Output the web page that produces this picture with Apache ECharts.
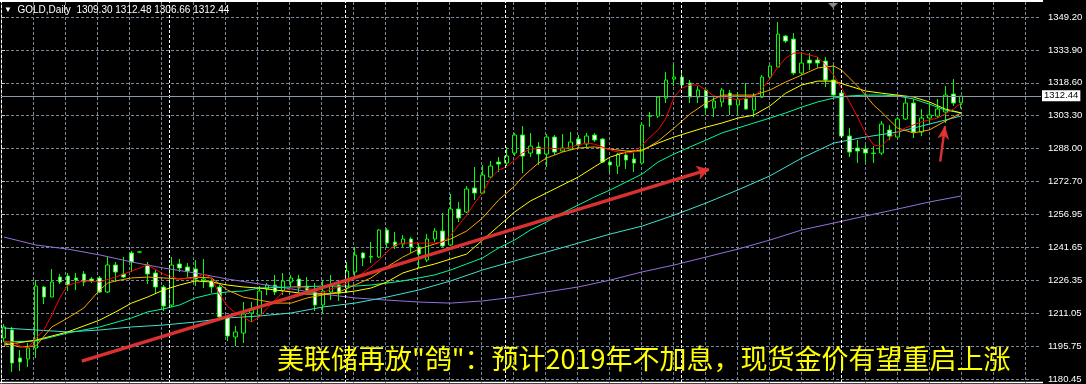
<!DOCTYPE html>
<html><head><meta charset="utf-8">
<script src="https://cdn.jsdelivr.net/npm/echarts@6/dist/echarts.min.js"></script>
<style>html,body{margin:0;padding:0;background:#000;}#c{width:1086px;height:384px;}</style>
</head><body><div id="c"></div>
<script>
// ---- candles (GOLD, Daily) ----
const opens = [
1199.97,1203.69,1190.68,1190.21,1195.32,1223.68,1219.03,1228.32,1228.79,1227.86,
1229.72,1227.39,1227.86,1221.35,1233.90,1229.72,1239.48,1239.90,1233.90,1230.18,
1223.68,1215.31,1234.37,1232.97,1232.04,1226.70,1226.46,1223.68,1209.73,1200.44,
1202.29,1211.59,1210.66,1222.75,1224.60,1221.82,1226.00,1227.39,1224.14,1221.35,
1215.31,1221.35,1224.60,1223.21,1230.65,1239.48,1237.60,1237.62,1250.17,1244.59,
1243.66,1245.99,1242.27,1236.22,1245.99,1249.70,1243.20,1259.93,1258.53,1269.69,
1267.37,1274.80,1281.77,1281.31,1285.96,1294.32,1285.96,1288.75,1285.49,1293.39,
1286.89,1287.82,1292.46,1290.14,1294.32,1292.46,1281.77,1279.91,1285.03,1283.17,
1281.31,1303.10,1303.15,1311.52,1320.35,1321.28,1318.49,1311.99,1315.24,1306.87,
1309.66,1313.84,1308.27,1311.06,1305.94,1311.99,1321.28,1325.93,1340.34,1338.94,
1323.14,1329.18,1329.18,1328.72,1319.89,1313.84,1293.86,1288.28,1287.82,1285.70,
1285.96,1296.65,1293.39,1301.76,1309.20,1295.72,1302.22,1303.15,1305.01,1313.38,
1309.30];
const closes = [
1205.08,1188.35,1188.82,1195.32,1224.14,1219.03,1226.00,1226.00,1224.60,1226.93,
1226.00,1226.46,1221.35,1233.90,1230.65,1228.32,1235.30,1240.00,1229.72,1223.68,
1214.84,1233.90,1232.51,1231.11,1227.39,1227.39,1223.68,1209.73,1200.90,1202.76,
1211.13,1213.45,1221.82,1224.60,1221.35,1226.46,1227.86,1223.21,1222.28,1215.31,
1221.82,1224.60,1220.89,1231.11,1238.55,1237.15,1237.90,1250.17,1244.13,1242.73,
1245.99,1242.27,1239.01,1245.99,1249.70,1242.73,1259.93,1255.75,1269.22,1267.37,
1275.73,1279.91,1280.84,1284.56,1294.32,1284.56,1289.21,1285.49,1293.39,1286.42,
1288.28,1291.07,1289.68,1293.86,1292.00,1281.77,1280.38,1285.49,1282.70,1281.31,
1298.97,1303.20,1311.99,1319.89,1321.28,1317.56,1311.99,1315.24,1306.87,1310.13,
1315.24,1308.27,1311.06,1306.41,1312.45,1321.28,1326.39,1341.27,1338.01,1323.14,
1327.79,1327.79,1327.79,1319.89,1312.91,1293.86,1286.42,1286.89,1285.96,1285.96,
1299.44,1293.86,1301.76,1309.20,1295.72,1302.22,1303.62,1306.41,1312.91,1309.20,
1312.44];
const highs = [
1206.48,1205.08,1194.39,1197.65,1226.93,1224.14,1232.04,1229.72,1230.18,1230.18,
1231.11,1228.32,1228.79,1237.62,1235.30,1237.62,1240.41,1240.41,1235.30,1231.58,
1224.60,1237.62,1236.69,1234.83,1236.22,1236.69,1227.86,1224.60,1210.66,1205.55,
1216.70,1216.70,1224.14,1225.53,1229.25,1230.18,1229.25,1229.25,1228.32,1225.53,
1226.93,1229.25,1225.53,1235.30,1242.27,1239.94,1244.59,1250.63,1251.10,1249.24,
1247.84,1246.91,1244.13,1248.31,1251.10,1258.07,1266.90,1263.18,1270.62,1279.45,
1280.38,1282.24,1284.10,1288.75,1295.25,1298.51,1295.25,1291.07,1294.79,1294.32,
1294.79,1295.72,1294.32,1295.25,1295.25,1292.93,1282.70,1285.96,1286.42,1285.96,
1300.37,1305.01,1312.45,1323.61,1327.32,1323.61,1319.89,1317.10,1316.17,1311.99,
1316.17,1315.24,1314.31,1318.49,1313.84,1322.21,1326.86,1346.84,1340.80,1341.73,
1332.90,1332.44,1330.58,1330.58,1326.86,1314.31,1297.58,1292.00,1289.68,1289.21,
1300.83,1298.97,1302.69,1311.52,1311.06,1306.41,1309.66,1311.06,1317.10,1320.35,
1312.48];
const lows = [
1198.11,1184.17,1184.63,1186.49,1190.68,1215.77,1219.03,1225.07,1221.82,1222.28,
1224.14,1225.53,1220.89,1220.89,1226.00,1227.86,1230.65,1239.48,1225.07,1220.89,
1212.52,1214.38,1230.65,1228.32,1224.14,1223.21,1220.89,1208.34,1198.58,1196.25,
1197.65,1207.41,1209.73,1219.96,1219.96,1219.96,1223.68,1221.35,1221.35,1212.52,
1211.59,1217.63,1217.17,1220.89,1228.32,1233.44,1234.83,1237.15,1241.80,1241.34,
1242.27,1239.48,1232.51,1235.30,1244.59,1242.27,1242.73,1253.89,1258.07,1264.11,
1266.90,1274.34,1277.13,1279.91,1284.56,1276.66,1284.10,1280.38,1279.45,1285.03,
1286.42,1287.35,1288.28,1288.75,1291.07,1281.31,1277.13,1276.20,1278.52,1277.13,
1280.84,1298.04,1302.22,1309.20,1317.10,1316.17,1309.20,1309.20,1303.62,1302.69,
1307.34,1303.62,1303.62,1305.94,1302.69,1311.52,1320.82,1325.93,1337.08,1322.21,
1322.21,1324.53,1325.46,1316.63,1312.50,1293.39,1284.10,1281.31,1281.77,1281.31,
1285.03,1292.00,1293.39,1301.30,1292.93,1293.86,1299.90,1302.22,1299.90,1307.80,
1306.66];

// ---- moving averages as [bar, price] ----
const maRed = [[0,1198.6],[1,1198.1],[2,1196.3],[3,1195.3],[4,1200.0],[5,1203.7],[6,1210.7],[7,1218.6],[8,1224.6],[10,1226.5],[12,1226.0],[14,1228.3],[16,1231.1],[18,1233.9],[20,1229.7],[21,1228.3],[22,1227.4],[24,1227.9],[25,1229.7],[26,1227.9],[27,1220.4],[28,1214.8],[29,1211.6],[30,1209.7],[31,1207.4],[32,1209.7],[33,1213.9],[34,1217.6],[35,1221.4],[36,1223.2],[37,1223.7],[38,1223.2],[39,1222.3],[40,1220.9],[41,1222.8],[42,1223.7],[43,1225.5],[44,1227.9],[45,1230.2],[46,1233.0],[47,1236.2],[48,1239.9],[49,1243.2],[50,1244.1],[52,1244.1],[54,1244.1],[55,1244.6],[56,1247.8],[57,1252.5],[58,1257.1],[59,1262.7],[60,1267.4],[61,1274.3],[62,1278.1],[63,1279.5],[64,1282.7],[65,1286.0],[66,1287.8],[68,1288.3],[70,1287.8],[72,1289.7],[73,1290.6],[74,1290.1],[75,1288.8],[76,1287.4],[77,1286.4],[78,1286.0],[79,1286.4],[80,1289.7],[81,1293.4],[82,1296.7],[83,1302.2],[84,1312.0],[85,1316.2],[86,1317.6],[87,1317.6],[88,1315.2],[89,1312.5],[90,1311.5],[91,1311.5],[92,1310.6],[93,1311.5],[94,1312.0],[95,1315.7],[96,1320.4],[97,1325.9],[98,1330.1],[99,1332.4],[100,1332.4],[101,1331.5],[102,1330.6],[103,1326.9],[104,1322.2],[105,1316.2],[106,1309.7],[107,1302.7],[108,1295.3],[109,1289.7],[110,1289.2],[111,1292.9],[112,1295.7],[113,1297.6],[114,1299.0],[115,1300.4],[116,1301.3],[117,1302.2],[118,1304.1],[119,1306.4],[120,1309.2]];
const maOrange = [[0,1197.7],[2,1195.8],[4,1196.3],[6,1205.1],[8,1209.3],[10,1213.9],[12,1222.3],[13,1225.5],[14,1226.5],[16,1227.9],[18,1228.3],[20,1227.9],[22,1227.4],[24,1228.3],[26,1227.9],[28,1222.3],[30,1219.0],[32,1217.6],[34,1216.2],[36,1216.2],[38,1218.6],[40,1220.0],[42,1221.4],[44,1224.6],[46,1227.9],[48,1233.0],[50,1237.6],[52,1241.3],[54,1243.7],[56,1246.0],[58,1249.7],[60,1255.8],[62,1264.1],[64,1270.6],[65,1274.8],[66,1278.1],[67,1281.3],[68,1283.6],[70,1286.4],[72,1288.3],[74,1288.8],[76,1287.8],[78,1286.9],[80,1286.9],[82,1291.5],[84,1297.6],[86,1304.1],[88,1309.2],[90,1312.9],[92,1312.9],[94,1312.9],[96,1315.2],[98,1319.0],[100,1322.2],[102,1325.5],[104,1326.4],[105,1324.5],[106,1320.8],[107,1317.1],[108,1312.9],[109,1308.3],[110,1305.0],[112,1297.6],[114,1295.3],[116,1296.7],[118,1300.8],[120,1304.6]];
const maYellow = [[0,1196.7],[4,1199.0],[8,1202.8],[12,1208.3],[14,1212.1],[16,1216.2],[18,1219.0],[20,1222.3],[22,1224.6],[24,1226.5],[26,1226.0],[28,1224.6],[30,1223.7],[32,1223.2],[34,1222.3],[36,1221.4],[38,1220.4],[40,1220.4],[42,1220.9],[44,1221.8],[46,1223.2],[48,1226.0],[50,1230.2],[52,1232.5],[54,1234.4],[56,1236.7],[58,1239.0],[60,1245.5],[62,1252.0],[64,1258.5],[66,1263.7],[68,1267.4],[70,1271.1],[72,1274.8],[74,1279.5],[76,1284.1],[78,1286.4],[80,1287.4],[82,1290.6],[84,1293.4],[86,1295.7],[88,1298.0],[90,1299.9],[92,1302.2],[94,1303.6],[96,1307.8],[98,1313.8],[100,1317.6],[102,1319.4],[104,1319.4],[106,1317.1],[108,1314.8],[110,1313.8],[112,1312.9],[114,1312.0],[116,1309.7],[118,1306.4],[120,1304.6]];
const maGreen = [[0,1198.1],[4,1198.6],[8,1202.3],[12,1205.1],[16,1209.3],[18,1212.1],[20,1213.5],[22,1215.3],[24,1218.6],[26,1220.4],[28,1221.4],[30,1221.8],[32,1223.2],[36,1223.7],[40,1224.1],[44,1224.1],[46,1224.6],[48,1225.5],[50,1226.5],[52,1227.9],[54,1229.3],[56,1231.6],[58,1234.4],[60,1237.2],[62,1241.8],[64,1245.5],[66,1250.2],[68,1253.9],[70,1258.1],[72,1261.8],[74,1265.5],[76,1268.8],[78,1272.5],[80,1276.2],[82,1281.8],[84,1285.5],[86,1288.8],[88,1292.0],[90,1295.3],[92,1297.6],[94,1299.9],[96,1302.2],[98,1304.6],[100,1307.3],[102,1309.7],[104,1311.5],[106,1312.5],[108,1312.9],[110,1312.9],[112,1312.5],[114,1311.1],[116,1308.7],[118,1305.9],[120,1304.6]];
const maTurquoise = [[0,1204.6],[4,1203.7],[8,1202.8],[12,1203.7],[16,1205.1],[20,1206.0],[24,1207.4],[28,1209.3],[32,1210.2],[36,1211.6],[40,1214.4],[44,1216.2],[48,1219.0],[52,1222.3],[56,1226.5],[60,1231.6],[64,1235.8],[68,1239.9],[72,1244.1],[76,1248.3],[80,1252.0],[84,1257.1],[88,1262.7],[92,1268.8],[96,1275.3],[100,1283.6],[104,1290.6],[108,1293.4],[112,1295.7],[116,1299.4],[120,1303.2]];
const maPurple = [[0,1246.9],[4,1243.2],[8,1241.3],[12,1238.6],[16,1235.3],[20,1232.5],[24,1230.2],[28,1227.4],[32,1225.1],[36,1222.8],[40,1220.4],[44,1218.6],[48,1217.6],[52,1216.7],[56,1216.2],[60,1217.2],[64,1219.0],[68,1221.4],[72,1223.7],[76,1226.9],[80,1230.7],[84,1233.9],[88,1237.6],[92,1241.3],[96,1245.5],[100,1250.2],[104,1253.4],[108,1256.7],[112,1259.9],[116,1263.2],[120,1266.0]];

// ---- axis / annotation values ----
const priceLabels = ['1180.45','1195.75','1211.05','1226.35','1241.65','1256.95','1272.70','1288.00','1303.30','1318.60','1333.90','1349.20'];
const monthStarts = [21, 43, 63, 85, 105];
const lastQuote = {open: 1309.30, high: 1312.48, low: 1306.66, close: 1312.44};
const trendArrow = [[10.1, 1188.8], [88.5, 1278.2]];
const reboundArrow = [[117.4, 1281.8], [118.0, 1298.3]];
const headline = '美联储再放"鸽"：预计2019年不加息，现货金价有望重启上涨';
const symbolName = 'GOLD,Daily';

const SLOTS = 131;
const categories = Array.from({length: SLOTS}, (_, i) => String(i));
const candleData = opens.map((o, i) => [o, closes[i], lows[i], highs[i]]);

const GRID = '#7b8897';
const DASH = [3, 2];
const LABEL_FONT = "'Liberation Sans', Arial, sans-serif";

function maSeries(data, color) {
  return { type: 'line', xAxisIndex: 0, yAxisIndex: 0, data: data, showSymbol: false, symbol: 'none',
    silent: true, z: 3, lineStyle: { color: color, width: 1 } };
}

const arrowStyle = { color: 'rgba(236,52,52,0.92)', width: 3.5, type: 'solid' };
const arrowStyle2 = { color: 'rgba(236,52,52,0.92)', width: 2.5, type: 'solid' };

const chart = echarts.init(document.getElementById('c'), null, { renderer: 'canvas' });
chart.setOption({
  backgroundColor: '#000',
  animation: false,
  title: [
    { left: 4, top: 5, padding: 0, text: '{t|▼}  ' + symbolName + '  ' + [lastQuote.open, lastQuote.high, lastQuote.low, lastQuote.close].map(v => v.toFixed(2)).join(' '),
      textStyle: { color: '#ffffff', fontSize: 10, fontWeight: 'normal', fontFamily: LABEL_FONT,
        rich: { t: { fontSize: 8, color: '#ffffff' } } } },
    { left: 277, top: 345, padding: 0, text: headline,
      textStyle: { color: '#ffff00', fontSize: 27, fontWeight: 'normal', fontFamily: "'Noto Sans CJK SC'" } }
  ],
  grid: [
    { left: -3, top: 4, width: 1048, height: 376 },
    { left: 1, top: 17, width: 1040, height: 363 },
    { left: 1, top: 2, width: 1040, height: 381 }
  ],
  xAxis: [
    { gridIndex: 0, type: 'category', data: categories, boundaryGap: true, show: false },
    { gridIndex: 1, type: 'value', min: 0, max: 130, show: false },
    { gridIndex: 2, type: 'value', min: 0, max: 130, interval: 4,
      axisLine: { show: false }, axisTick: { show: false }, axisLabel: { show: false },
      splitLine: { show: true, showMinLine: false, showMaxLine: false, lineStyle: { color: GRID, type: DASH, width: 1 } } }
  ],
  yAxis: [
    { gridIndex: 0, type: 'value', min: 1180.45, max: 1355.24, show: false },
    { gridIndex: 1, type: 'value', min: 0, max: 11, interval: 1, position: 'right', offset: 1,
      axisLine: { show: false },
      axisTick: { show: true, length: 4, lineStyle: { color: '#c8c8c8' } },
      axisLabel: { color: '#ffffff', fontSize: 9.5, margin: 6, fontFamily: LABEL_FONT, formatter: v => priceLabels[v] || '' },
      splitLine: { show: true, lineStyle: { color: GRID, type: DASH, width: 1 } } },
    { gridIndex: 1, type: 'value', min: 1180.45, max: 1349.20, show: false },
    { gridIndex: 2, type: 'value', min: 0, max: 1, position: 'right', offset: 1,
      axisLine: { show: true, lineStyle: { color: '#ffffff', type: DASH, width: 1 } },
      axisTick: { show: false }, axisLabel: { show: false }, splitLine: { show: false } }
  ],
  series: [
    { type: 'line', xAxisIndex: 2, yAxisIndex: 3, data: [], silent: true,
      markLine: { silent: true, animation: false, symbol: ['none', 'none'], label: { show: false },
        lineStyle: { color: '#ffffff', type: DASH, width: 1 },
        data: monthStarts.map(v => ({ xAxis: v })) } },
    { type: 'candlestick', xAxisIndex: 0, yAxisIndex: 0, data: candleData, barWidth: 4, z: 2, silent: true,
      itemStyle: { color: '#000000', color0: '#ffffff', borderColor: '#00ff00', borderColor0: '#00ff00', borderWidth: 1 } },
    maSeries(maPurple, '#9370db'),
    maSeries(maTurquoise, '#40e0d0'),
    maSeries(maGreen, '#00fa9a'),
    maSeries(maYellow, '#ffff00'),
    maSeries(maOrange, '#ffa500'),
    maSeries(maRed, '#ff0000'),
    { type: 'line', xAxisIndex: 1, yAxisIndex: 2, data: [], silent: true, z: 5,
      markLine: { silent: true, animation: false, symbol: ['none', 'none'], label: { show: false },
        data: [
          { yAxis: lastQuote.close, lineStyle: { color: '#8c9aa8', type: 'solid', width: 1 },
            label: { show: true, position: 'end', distance: 1, formatter: lastQuote.close.toFixed(2),
              color: '#000000', backgroundColor: '#ffffff', padding: [1, 2, 0, 2], fontSize: 9.5, fontFamily: LABEL_FONT } },
          [ { coord: trendArrow[0], symbol: 'none', lineStyle: arrowStyle },
            { coord: trendArrow[1], symbol: 'arrow', symbolSize: [11, 12], lineStyle: arrowStyle } ],
          [ { coord: reboundArrow[0], symbol: 'none', lineStyle: arrowStyle2 },
            { coord: reboundArrow[1], symbol: 'arrow', symbolSize: [9, 13], lineStyle: arrowStyle2 } ]
        ] } }
  ],
  graphic: [
    { type: 'line', silent: true, shape: { x1: 0, y1: 1, x2: 1043, y2: 1 }, style: { stroke: '#ffffff', lineWidth: 2 } },
    { type: 'line', silent: true, shape: { x1: 0, y1: 382.5, x2: 1043, y2: 382.5 }, style: { stroke: '#ffffff', lineWidth: 1.5 } },
    { type: 'polygon', silent: true, shape: { points: [[828, 3], [838, 3], [833, 8]] }, style: { fill: '#8a8a8a' } }
  ]
});
</script>
</body></html>
